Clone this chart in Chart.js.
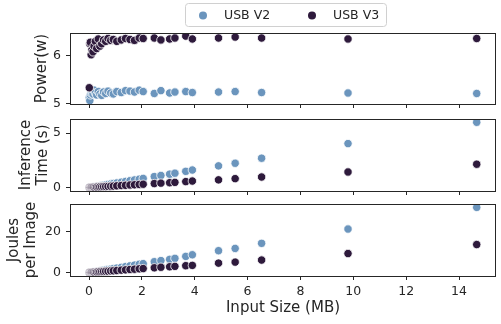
<!DOCTYPE html>
<html>
<head>
<meta charset="utf-8">
<script src="https://cdn.jsdelivr.net/npm/chart.js@4.4.1/dist/chart.umd.min.js"></script>
<style>
    html, body { margin: 0; padding: 0; background: #fff; }
    #wrap { position: relative; width: 501px; height: 324px; }
    canvas { position: absolute; left: 0; }
</style>
</head>
<body>
<div id="wrap">
    <canvas id="powerChart" width="501" height="112" style="top:0"></canvas>
    <canvas id="timeChart" width="501" height="85" style="top:112px"></canvas>
    <canvas id="joulesChart" width="501" height="127" style="top:197px"></canvas>
</div>
<script>
// input sizes (MB), shared by both devices
const inputSizes = [0.01, 0.03, 0.05, 0.08, 0.11, 0.15, 0.19, 0.24, 0.29, 0.35, 0.41, 0.48, 0.55, 0.63, 0.72, 0.82, 0.92, 1.05, 1.22, 1.38, 1.55, 1.72, 1.9, 2.05, 2.47, 2.72, 3.05, 3.25, 3.66, 3.91, 4.9, 5.53, 6.53, 9.8, 14.67];

const powerV2 = [5.12, 5.06, 5.18, 5.22, 5.25, 5.2, 5.28, 5.22, 5.18, 5.25, 5.2, 5.17, 5.24, 5.21, 5.26, 5.22, 5.2, 5.25, 5.23, 5.27, 5.26, 5.24, 5.28, 5.25, 5.21, 5.27, 5.22, 5.24, 5.25, 5.23, 5.24, 5.25, 5.23, 5.22, 5.21];
const powerV3 = [5.33, 6.25, 6.28, 6.02, 6.12, 6.08, 6.2, 6.3, 6.15, 6.35, 6.2, 6.25, 6.33, 6.3, 6.36, 6.32, 6.34, 6.3, 6.33, 6.36, 6.34, 6.32, 6.37, 6.36, 6.37, 6.33, 6.35, 6.37, 6.41, 6.35, 6.37, 6.39, 6.37, 6.35, 6.36];

const timeV2 = [0.01, 0.02, 0.03, 0.04, 0.05, 0.07, 0.08, 0.1, 0.12, 0.15, 0.17, 0.2, 0.23, 0.26, 0.3, 0.34, 0.38, 0.43, 0.5, 0.57, 0.64, 0.71, 0.78, 0.85, 1.02, 1.12, 1.24, 1.33, 1.5, 1.62, 2.0, 2.24, 2.7, 4.04, 5.99];
const timeV3 = [0.01, 0.01, 0.02, 0.02, 0.03, 0.03, 0.04, 0.05, 0.06, 0.07, 0.08, 0.09, 0.1, 0.11, 0.12, 0.14, 0.15, 0.17, 0.2, 0.22, 0.25, 0.27, 0.3, 0.32, 0.38, 0.42, 0.46, 0.49, 0.56, 0.61, 0.72, 0.83, 0.98, 1.44, 2.15];

const joulesV2 = [0.05, 0.1, 0.16, 0.21, 0.26, 0.36, 0.42, 0.52, 0.62, 0.79, 0.89, 1.05, 1.2, 1.37, 1.58, 1.78, 1.99, 2.26, 2.62, 3.0, 3.37, 3.72, 4.12, 4.46, 5.4, 5.95, 6.55, 7.05, 8.0, 8.8, 10.8, 11.9, 14.4, 21.4, 32.0];
const joulesV3 = [0.05, 0.06, 0.12, 0.12, 0.19, 0.19, 0.25, 0.32, 0.38, 0.44, 0.5, 0.57, 0.63, 0.7, 0.76, 0.89, 0.95, 1.08, 1.27, 1.4, 1.59, 1.72, 1.91, 2.04, 2.42, 2.68, 2.93, 3.12, 3.45, 3.6, 4.7, 5.2, 6.2, 9.4, 13.8];

const seriesLabels = ['USB V2', 'USB V3'];
const sizeTicks = [0, 2, 4, 6, 8, 10, 12, 14];
const powerTicks = [5, 6];
const timeTicks = [0, 5];
const joulesTicks = [0, 20];

const FONT = 'DejaVu Sans';
const INK = '#262626';
const COLORS = ['#6b95bd', '#2e1a3c'];

const toPoints = (ys) => ys.map((y, i) => ({ x: inputSizes[i], y }));

// matplotlib-style box around the plot area
const framePlugin = {
    id: 'frame',
    afterDatasetsDraw(chart) {
        const { ctx, chartArea: a } = chart;
        ctx.save();
        ctx.strokeStyle = INK;
        ctx.lineWidth = 1;
        ctx.strokeRect(a.left + 0.5, a.top + 0.5, a.right - a.left - 1, a.bottom - a.top);
        ctx.restore();
    }
};

const legendPlugin = {
    id: 'boxLegend',
    afterDraw(chart) {
        const { ctx } = chart;
        ctx.save();
        ctx.beginPath();
        ctx.roundRect(185.5, 3.5, 201, 23, 3);
        ctx.fillStyle = '#fff';
        ctx.fill();
        ctx.strokeStyle = '#d0d0d0';
        ctx.stroke();
        ctx.font = `12.5px "${FONT}"`;
        ctx.textBaseline = 'middle';
        chart.data.datasets.forEach((ds, i) => {
            const x = 203 + i * 109;
            ctx.beginPath();
            ctx.arc(x, 15.5, 4, 0, Math.PI * 2);
            ctx.fillStyle = ds.backgroundColor;
            ctx.fill();
            ctx.fillStyle = INK;
            ctx.fillText(ds.label, x + 21, 16);
        });
        ctx.restore();
    }
};

const makePanel = (id, v2, v3, cfg) => {
    const ctx = document.getElementById(id).getContext('2d');
    return new Chart(ctx, {
        type: 'scatter',
        data: {
            datasets: [v2, v3].map((ys, i) => ({
                label: seriesLabels[i],
                data: toPoints(ys),
                backgroundColor: COLORS[i],
                borderColor: '#ffffff',
                borderWidth: 0.8,
                pointRadius: 4.2,
                order: 1 - i
            }))
        },
        options: {
            responsive: false,
            animation: false,
            events: [],
            layout: { padding: { top: cfg.top, left: 0, right: 1, bottom: 0 } },
            plugins: { legend: { display: false }, tooltip: { enabled: false } },
            scales: {
                x: {
                    type: 'linear',
                    min: -0.72,
                    max: 15.4,
                    afterBuildTicks: (scale) => { scale.ticks = sizeTicks.map(value => ({ value })); },
                    afterFit: (scale) => {
                        scale.height = cfg.xHeight;
                        scale.paddingLeft = 0;
                        scale.paddingRight = 0;
                    },
                    grid: { drawOnChartArea: false, tickLength: 4, color: INK },
                    border: { display: false },
                    ticks: {
                        display: cfg.showX,
                        padding: 4,
                        color: INK,
                        maxRotation: 0,
                        font: { family: FONT, size: 12.5 }
                    },
                    title: {
                        display: cfg.showX,
                        text: 'Input Size (MB)',
                        color: INK,
                        padding: { top: 0, bottom: 6.5 },
                        font: { family: FONT, size: 15, lineHeight: 1.2 }
                    }
                },
                y: {
                    min: cfg.yMin,
                    max: cfg.yMax,
                    afterBuildTicks: (scale) => { scale.ticks = cfg.yTicks.map(value => ({ value })); },
                    afterFit: (scale) => {
                        scale.width = 70;
                        scale.paddingTop = 0;
                        scale.paddingBottom = 0;
                    },
                    grid: { drawOnChartArea: false, tickLength: 4, color: INK },
                    border: { display: false },
                    ticks: {
                        padding: 5,
                        color: INK,
                        font: { family: FONT, size: 12.5 }
                    },
                    title: {
                        display: true,
                        text: cfg.yTitle,
                        color: INK,
                        padding: { top: cfg.titlePad, bottom: 0 },
                        font: { family: FONT, size: 15, lineHeight: 1.1 }
                    }
                }
            }
        },
        plugins: cfg.legend ? [framePlugin, legendPlugin] : [framePlugin]
    });
};

makePanel('powerChart', powerV2, powerV3, {
    top: 33, xHeight: 8, showX: false, legend: true,
    yMin: 4.99, yMax: 6.475, yTicks: powerTicks,
    yTitle: 'Power(w)', titlePad: 33.5
});

makePanel('timeChart', timeV2, timeV3, {
    top: 7, xHeight: 6, showX: false,
    yMin: -0.3, yMax: 6.29, yTicks: timeTicks,
    yTitle: ['Inference', 'Time (s)'], titlePad: 18
});

makePanel('joulesChart', joulesV2, joulesV3, {
    top: 7, xHeight: 48, showX: true,
    yMin: -1.6, yMax: 33.66, yTicks: joulesTicks,
    yTitle: ['Joules', 'per Image'], titlePad: 6
});
</script>
</body>
</html>
